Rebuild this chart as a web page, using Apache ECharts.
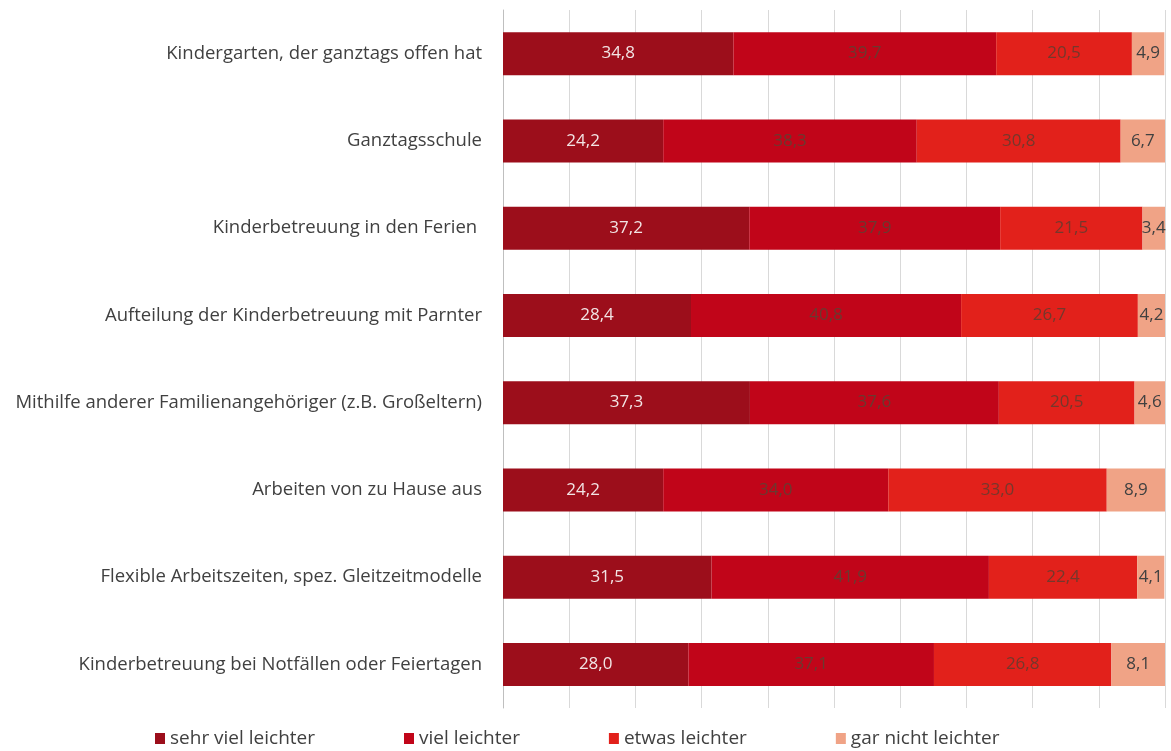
<!DOCTYPE html>
<html>
<head>
    <meta charset="utf-8">
    <script src="https://cdn.jsdelivr.net/npm/echarts@6/dist/echarts.min.js"></script>
    <style>
        html, body { margin: 0; padding: 0; background: #fff; }
        #container { width: 1171px; height: 751px; }
    </style>
</head>
<body>
<div id="container"></div>
<script>
    var categories = [
        'Kindergarten, der ganztags offen hat',
        'Ganztagsschule',
        'Kinderbetreuung in den Ferien ',
        'Aufteilung der Kinderbetreuung mit Parnter',
        'Mithilfe anderer Familienangehöriger (z.B. Großeltern)',
        'Arbeiten von zu Hause aus',
        'Flexible Arbeitszeiten, spez. Gleitzeitmodelle',
        'Kinderbetreuung bei Notfällen oder Feiertagen'
    ];
    var seriesNames = ['sehr viel leichter', 'viel leichter', 'etwas leichter', 'gar nicht leichter'];
    var sehrViel = [34.8, 24.2, 37.2, 28.4, 37.3, 24.2, 31.5, 28.0];
    var viel = [39.7, 38.3, 37.9, 40.8, 37.6, 34.0, 41.9, 37.1];
    var etwas = [20.5, 30.8, 21.5, 26.7, 20.5, 33.0, 22.4, 26.8];
    var garNicht = [4.9, 6.7, 3.4, 4.2, 4.6, 8.9, 4.1, 8.1];

    var colors = ['#9c0e1b', '#c10519', '#e2211b', '#f0a386'];
    var labelColors = ['#f2e4e4', '#6a3a30', '#74382c', '#404040'];
    var values = [sehrViel, viel, etwas, garNicht];

    var chart = echarts.init(document.getElementById('container'));

    var series = [];
    for (var i = 0; i < values.length; i++) {
        series.push({
            name: seriesNames[i],
            type: 'bar',
            stack: 'total',
            barWidth: 43,
            data: values[i],
            itemStyle: { color: colors[i] },
            label: {
                show: true,
                color: labelColors[i],
                fontFamily: 'Open Sans',
                fontSize: 17,
                formatter: function (p) { return p.value.toFixed(1).replace('.', ','); }
            }
        });
    }

    var option = {
        animation: false,
        color: colors,
        grid: { left: 503, right: 6, top: 10, bottom: 43, containLabel: false },
        legend: {
            left: 150,
            bottom: -2,
            itemWidth: 10,
            itemHeight: 11,
            itemGap: 89,
            icon: 'rect',
            textStyle: { color: '#404040', fontSize: 19, fontFamily: 'Open Sans' },
            data: seriesNames
        },
        xAxis: {
            type: 'value',
            min: 0,
            max: 100,
            interval: 10,
            axisLabel: { show: false },
            axisLine: { show: false },
            axisTick: { show: false },
            splitLine: { lineStyle: { color: '#d9d9d9', width: 1 } }
        },
        yAxis: {
            type: 'category',
            inverse: true,
            data: categories,
            axisLine: { show: true, lineStyle: { color: '#bfbfbf' } },
            axisTick: { show: false },
            axisLabel: {
                color: '#404040',
                fontSize: 18.5,
                fontFamily: 'Open Sans',
                margin: 21
            }
        },
        series: series
    };

    chart.setOption(option);
</script>
</body>
</html>
